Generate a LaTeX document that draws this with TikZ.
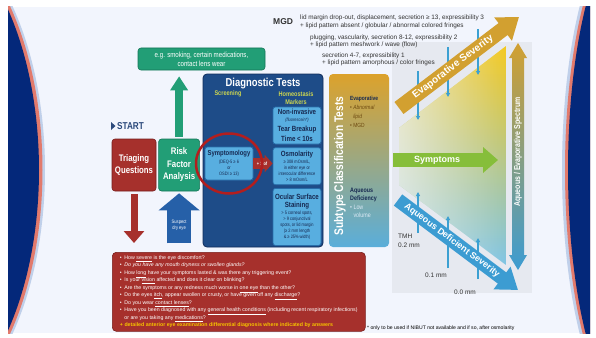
\documentclass[tikz,border=0pt]{standalone}
\usepackage{fontspec}
\setmainfont{Liberation Sans}
\newfontfamily\narrowfont[FakeStretch=0.82]{Liberation Sans}
\usepackage{xcolor}
\usepackage{tikz}
\usetikzlibrary{positioning,arrows.meta,shapes.geometric,fadings}
\definecolor{slidebg}{RGB}{242,245,253}
\definecolor{navyband}{RGB}{4,40,122}
\definecolor{salmon}{RGB}{226,122,108}
\definecolor{paleedge}{RGB}{192,208,234}
\definecolor{triagered}{RGB}{166,48,44}
\definecolor{triagedark}{RGB}{120,30,28}
\definecolor{riskgreen}{RGB}{34,158,118}
\definecolor{riskdark}{RGB}{22,118,88}
\definecolor{diagnavy}{RGB}{30,76,136}
\definecolor{diagdark}{RGB}{16,44,90}
\definecolor{testblue}{RGB}{88,174,224}
\definecolor{testedge}{RGB}{40,110,170}
\definecolor{markergreen}{RGB}{205,214,80}
\definecolor{textnavy}{RGB}{22,40,80}
\definecolor{startnavy}{RGB}{44,74,124}
\definecolor{evapgold}{RGB}{210,160,48}
\definecolor{aqblue}{RGB}{60,156,210}
\definecolor{sympgreen}{RGB}{134,190,58}
\definecolor{pinblue}{RGB}{60,160,210}
\definecolor{grayback}{RGB}{230,233,240}
\definecolor{mgdgray}{RGB}{50,50,50}
\definecolor{circlered}{RGB}{178,30,30}
\definecolor{qyellow}{RGB}{246,196,0}
\definecolor{suspectblue}{RGB}{38,96,168}
\definecolor{subtop}{RGB}{220,162,44}
\definecolor{submid}{RGB}{168,172,120}
\definecolor{subbottom}{RGB}{90,174,218}
\definecolor{regionyellow}{RGB}{244,201,32}
\definecolor{regionmid}{RGB}{226,236,200}
\definecolor{regionblue}{RGB}{127,197,229}
\definecolor{lipidbrown}{RGB}{110,74,16}
\definecolor{lowwhite}{RGB}{221,234,245}

\tikzfading[name=fadeleft, left color=transparent!0, right color=transparent!100]

\newcommand{\boxhead}[1]{{\bfseries\fontsize{7.5}{8.5}\selectfont #1}}

\begin{document}
\begin{tikzpicture}[x=1pt, y=-1pt,
    every node/.style={inner sep=0pt},
    redbox/.style={rectangle, rounded corners=3pt, fill=triagered, draw=triagedark, line width=0.6pt,
                   text=white, align=center, font=\narrowfont\bfseries\fontsize{9.5}{12.5}\selectfont},
    greenbox/.style={rectangle, rounded corners=3pt, fill=riskgreen, draw=riskdark, line width=0.6pt,
                     text=white, align=center},
    testbox/.style={rectangle, rounded corners=2.5pt, fill=testblue, draw=testedge, line width=0.7pt,
                    text=textnavy, align=center, font=\narrowfont\fontsize{4.8}{6}\selectfont},
    pinline/.style={draw=pinblue, line width=1.1pt, -{Triangle[width=4pt,length=4pt]}},
    smalltext/.style={text=mgdgray, align=left, font=\fontsize{6.4}{7.2}\selectfont}
  ]
    % slide and side bands
    \useasboundingbox (0,0) rectangle (596,337);
    \fill[white] (0,0) rectangle (596,337);
    \fill[slidebg] (8,7) rectangle (590,333);
    \begin{scope}
      \clip (8,7) rectangle (590,333);
      \fill[paleedge] (0,5) -- (12,5) .. controls (56,100) and (56,240) .. (12,335) -- (0,335) -- cycle;
      \fill[salmon] (0,5) -- (9.5,5) .. controls (53.5,100) and (53.5,240) .. (9.5,335) -- (0,335) -- cycle;
      \fill[navyband] (0,5) -- (6,5) .. controls (50,100) and (50,240) .. (6,335) -- (0,335) -- cycle;
      \fill[paleedge] (596,5) -- (580,5) .. controls (556,100) and (556,240) .. (580,335) -- (596,335) -- cycle;
      \fill[salmon] (596,5) -- (583,5) .. controls (559,100) and (559,240) .. (583,335) -- (596,335) -- cycle;
      \fill[navyband] (596,5) -- (586,5) .. controls (562,100) and (562,240) .. (586,335) -- (596,335) -- cycle;
    \end{scope}

    % severity field
    \fill[grayback] (392,42) rectangle (532,293);
    \shade[top color=regionyellow, middle color=regionmid, bottom color=regionblue]
      (399,128) -- (506,46) -- (506,265) -- (399,185) -- cycle;
    \fill[slidebg, path fading=fadeleft, fill opacity=0.7] (399,128) -- (506,46) -- (506,265) -- (399,185) -- cycle;

    \foreach \px/\pa/\pb [count=\i] in {478/29/75, 448/47/97, 418/71/120, 418/233/192, 448/268/216, 478/279/238} {
      \coordinate (pinfoot\i) at (\px,\pa);
      \coordinate (pinhead\i) at (\px,\pb);
      \draw[pinline] (pinfoot\i) -- (pinhead\i);
    }

    \coordinate (evapstart) at (399,108);
    \coordinate (evaptip)   at (519,17);
    \coordinate (aqstart)   at (398,200);
    \coordinate (aqtip)     at (518,290);
    \coordinate (sympstart) at (393,160);
    \coordinate (symptip)   at (498,160);
    \draw[line width=15pt, evapgold, -{Triangle[width=28pt,length=20pt]}] (evapstart) --
      node[sloped, pos=0.45, text=white, font=\bfseries\fontsize{10}{10}\selectfont] (evaplabel) {Evaporative Severity} (evaptip);
    \draw[line width=14pt, aqblue, -{Triangle[width=27pt,length=20pt]}] (aqstart) --
      node[sloped, pos=0.45, text=white, font=\bfseries\fontsize{9}{10}\selectfont] (aqlabel) {Aqueous Deficient Severity} (aqtip);
    \draw[line width=14pt, sympgreen, -{Triangle[width=25pt,length=15pt]}] (sympstart) --
      node[pos=0.42, text=white, font=\bfseries\fontsize{9}{10}\selectfont] (symplabel) {Symptoms} (symptip);

    \shade[top color=evapgold, bottom color=aqblue] (518,43) -- (527,58) -- (524,58) -- (524,255) -- (527,255)
      -- (518,270) -- (509,255) -- (512,255) -- (512,58) -- (509,58) -- cycle;
    \node[rotate=90, text=white, font=\narrowfont\bfseries\fontsize{8.5}{9}\selectfont] (spectrum) at (518,152)
      {Aqueous / Evaporative Spectrum};

    % MGD grading
    \node[anchor=base west, text=mgdgray, font=\bfseries\fontsize{8.5}{9}\selectfont] (mgd) at (273,24.5) {MGD};
    \node[smalltext, anchor=north west] (mgdone) at (300,15)
      {lid margin drop-out, displacement, secretion ≥ 13, expressibility 3\\+ lipid pattern absent / globular / abnormal colored fringes};
    \node[smalltext, anchor=north west] (mgdtwo) at (310,34.5)
      {plugging, vascularity, secretion 8-12, expressibility 2\\+ lipid pattern meshwork / wave (flow)};
    \node[smalltext, anchor=north west] (mgdthree) at (322,52.5)
      {secretion 4-7, expressibility 1\\+ lipid pattern amorphous / color fringes};

    % tear meniscus height
    \node[smalltext, anchor=north west, font=\fontsize{6.5}{9}\selectfont] (tmh) at (398,234) {TMH\\0.2 mm};
    \node[smalltext, anchor=west, font=\fontsize{6.5}{9}\selectfont] (tmhone) at (425,275) {0.1 mm};
    \node[smalltext, anchor=west, font=\fontsize{6.5}{9}\selectfont] (tmhzero) at (454,292) {0.0 mm};

    % start
    \node[anchor=west, text=startnavy, font=\narrowfont\bfseries\fontsize{10}{10}\selectfont] (start) at (117,126) {START};
    \fill[startnavy] ([xshift=-6pt,yshift=4pt]start.west) -- ([xshift=-1.5pt]start.west) -- ([xshift=-6pt,yshift=-4pt]start.west) -- cycle;

    \node[redbox, minimum width=44pt, minimum height=52pt] (triage) at (134,165) {Triaging\\Questions};
    \node[greenbox, minimum width=41pt, minimum height=52pt, right=2pt of triage,
          font=\narrowfont\bfseries\fontsize{9.5}{12.5}\selectfont] (risk) {Risk\\Factor\\Analysis};
    \node[greenbox, minimum width=127pt, minimum height=22pt, font=\narrowfont\fontsize{7.5}{9}\selectfont] (eg)
      at (201.5,59) {e.g. smoking, certain medications,\\contact lens wear};

    % diagnostic tests
    \node[rectangle, rounded corners=4pt, fill=diagnavy, draw=diagdark, line width=0.8pt,
          minimum width=120pt, minimum height=173pt] (diag) at (263,160.5) {};
    \node[text=white, font=\narrowfont\bfseries\fontsize{11.5}{12}\selectfont] (diagtitle) at (263,84) {Diagnostic Tests};
    \node[text=markergreen, font=\narrowfont\bfseries\fontsize{6.8}{7.5}\selectfont] (screening) at (228,94) {Screening};
    \node[text=markergreen, align=center, font=\narrowfont\bfseries\fontsize{6.8}{7.5}\selectfont] (markers) at (296,98)
      {Homeostasis\\Markers};

    \node[testbox, minimum width=48pt, minimum height=33pt] (symp) at (229,163.5)
      {{\bfseries\fontsize{7.2}{8}\selectfont Symptomology}\\[1.5pt](DEQ-5 ≥ 6\\or\\OSDI ≥ 13)};
    \node[testbox, minimum width=48pt, minimum height=37pt] (nibut) at (297,125.5)
      {\boxhead{Non-invasive}\\[1pt]{\itshape (fluorescein*)}\\[2.5pt]\boxhead{Tear Breakup}\\[2.5pt]\boxhead{Time < 10s}};
    \node[testbox, minimum width=48pt, minimum height=37pt, below=3pt of nibut] (osm)
      {\boxhead{Osmolarity}\\[1pt]≥ 308 mOsm/L,\\in either eye or\\interocular difference\\> 8 mOsm/L};
    \node[testbox, minimum width=48pt, minimum height=57pt, below=3pt of osm] (oss)
      {\boxhead{Ocular Surface}\\[2.5pt]\boxhead{Staining}\\[1pt]> 5 corneal spots,\\> 9 conjunctival\\spots, or lid margin\\(≥ 2 mm length\\\& ≥ 25\% width)};

    \draw[line width=11pt, triagered, -{Triangle[width=17pt,length=8pt]}] (symp.east) --
      node[pos=0.45, text=white, font=\narrowfont\bfseries\fontsize{4.8}{5}\selectfont] (plusone) {+ 1 of} (symp.east -| osm.west);
    \node[ellipse, draw=circlered, line width=2.5pt, minimum width=66pt, minimum height=60pt] (focus) at (symp) {};

    % subtype classification
    \node[rectangle, rounded corners=4pt, top color=subtop, middle color=submid, bottom color=subbottom,
          minimum width=60pt, minimum height=173pt] (subtype) at (359,160.5) {};
    \node[rotate=90, text=white, font=\narrowfont\bfseries\fontsize{12.5}{13}\selectfont] (subtitle) at (340,166)
      {Subtype Classification Tests};
    \node[anchor=north west, align=left, text=textnavy, font=\narrowfont\fontsize{6}{9}\selectfont] (evaptext) at (350,96)
      {\textbf{Evaporative}\\\textcolor{lipidbrown}{\textbullet\ \textit{Abnormal}}\\
       \textcolor{lipidbrown}{\hphantom{\textbullet\ }\textit{lipid}}\\\textcolor{lipidbrown}{\textbullet\ MGD}};
    \node[anchor=north west, align=left, text=textnavy, font=\narrowfont\fontsize{6.5}{8}\selectfont] (aqtext) at (350,188)
      {\textbf{Aqueous}\\\textbf{Deficiency}\\[1pt]\textcolor{lowwhite}{\textbullet\ Low}\\
       \textcolor{lowwhite}{\hphantom{\textbullet\ }volume}};

    % questions
    \node[rectangle, rounded corners=4pt, fill=triagered, draw=triagedark, line width=0.6pt, text=white,
          align=left, anchor=north west, minimum width=253pt, minimum height=79pt,
          font=\fontsize{5.25}{7.5}\selectfont] (questions) at (112,252)
      {\textbullet\enspace How \underline{severe} is the eye discomfort?\\
       \textbullet\enspace \textit{Do you have any mouth dryness or swollen glands?}\\
       \textbullet\enspace How \underline{long} have your symptoms lasted \& was there any triggering event?\\
       \textbullet\enspace Is your \underline{vision} affected and does it clear on blinking?\\
       \textbullet\enspace Are the symptoms or any redness much worse in \underline{one eye} than the other?\\
       \textbullet\enspace Do the eyes \underline{itch}, appear swollen or crusty, or have given off any \underline{discharge}?\\
       \textbullet\enspace Do you wear \underline{contact lenses}?\\
       \textbullet\enspace Have you been diagnosed with any \underline{general health conditions} (including recent respiratory infections)\\
       \hphantom{\textbullet\enspace}or are you taking any \underline{medications}?\\
       \textcolor{qyellow}{\bfseries + detailed anterior eye examination differential diagnosis where indicated by answers}};

    % flow arrows
    \draw[line width=8pt, riskgreen, -{Triangle[width=17pt,length=14pt]}, shorten <=2pt, shorten >=6pt]
      (risk.north) -- (risk.north |- eg.south);
    \draw[line width=7pt, triagered, -{Triangle[width=20pt,length=12pt]}, shorten <=3pt, shorten >=9pt]
      (triage.south) -- (triage.south |- questions.north);
    \coordinate (suspectfoot) at ([yshift=-52pt]risk.south);
    \draw[line width=24pt, suspectblue, -{Triangle[width=40pt,length=17pt]}, shorten >=2pt] (suspectfoot) --
      node[pos=0.34, text=white, align=center, font=\narrowfont\fontsize{5}{6}\selectfont] (suspect) {Suspect\\dry eye} (risk.south);

    \node[anchor=base west, text=black, font=\fontsize{5.1}{5.5}\selectfont] (footnote) at (367,329)
      {* only to be used if NIBUT not available and if so, after osmolarity};
  \end{tikzpicture}
\end{document}
